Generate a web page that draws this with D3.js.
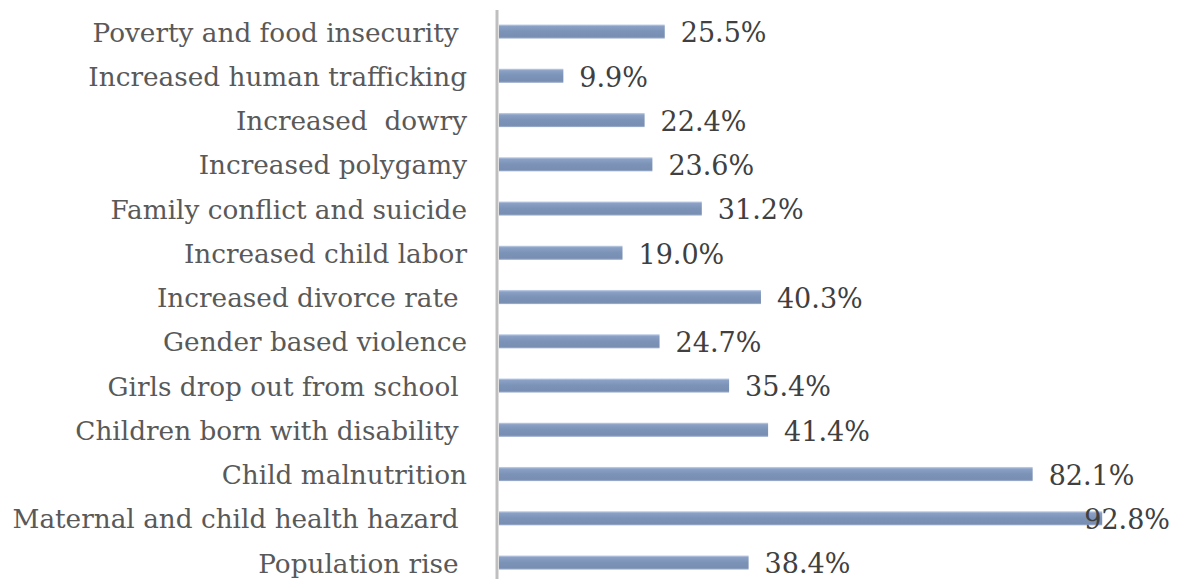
<!DOCTYPE html>
<html>
<head>
<meta charset="utf-8">
<script src="https://cdn.jsdelivr.net/npm/d3@7"></script>
<style>
  html, body { margin: 0; padding: 0; background: #ffffff; }
  svg { display: block; }
  .cat text { white-space: pre; }
</style>
</head>
<body>
<svg id="chart" width="1177" height="579"></svg>
<script>
// Consequences, listed top to bottom as they appear
const categories = [
  "Poverty and food insecurity ",
  "Increased human trafficking",
  "Increased  dowry",
  "Increased polygamy",
  "Family conflict and suicide",
  "Increased child labor",
  "Increased divorce rate ",
  "Gender based violence",
  "Girls drop out from school ",
  "Children born with disability ",
  "Child malnutrition",
  "Maternal and child health hazard ",
  "Population rise "
];
// Share of respondents (%)
const values = [25.5, 9.9, 22.4, 23.6, 31.2, 19.0, 40.3, 24.7, 35.4, 41.4, 82.1, 92.8, 38.4];
const valueLabels = ["25.5%", "9.9%", "22.4%", "23.6%", "31.2%", "19.0%", "40.3%", "24.7%", "35.4%", "41.4%", "82.1%", "92.8%", "38.4%"];

const W = 1177;
const svg = d3.select("#chart");
const axisX = 496.5;
const barStart = 499;

const x = d3.scaleLinear().domain([0, 100]).range([barStart, barStart + 650]);
const y = d3.scaleBand()
  .domain(categories)
  .range([9.4, 9.4 + 13 * 44.25])
  .paddingInner(0.68)
  .paddingOuter(0.34);

// cylinder-like shading of the bars
const defs = svg.append("defs");
const grad = defs.append("linearGradient")
  .attr("id", "barFill").attr("x1", 0).attr("y1", 0).attr("x2", 0).attr("y2", 1);
grad.append("stop").attr("offset", "0%").attr("stop-color", "#c9d6ec");
grad.append("stop").attr("offset", "14%").attr("stop-color", "#8aa0c4");
grad.append("stop").attr("offset", "50%").attr("stop-color", "#7c93b8");
grad.append("stop").attr("offset", "88%").attr("stop-color", "#788eb2");
grad.append("stop").attr("offset", "100%").attr("stop-color", "#a6b6d0");

const data = categories.map((c, i) => ({ cat: c, value: values[i], label: valueLabels[i] }));

svg.append("g").selectAll("rect")
  .data(data)
  .join("rect")
  .attr("x", x(0))
  .attr("y", d => y(d.cat))
  .attr("width", d => x(d.value) - x(0))
  .attr("height", y.bandwidth())
  .attr("fill", "url(#barFill)");

// category axis
const axis = svg.append("g")
  .attr("class", "cat")
  .attr("transform", `translate(${axisX},0)`)
  .call(d3.axisLeft(y).tickSize(0).tickSizeOuter(0).tickPadding(29.5));
axis.select(".domain").attr("stroke", "#bfbfbf").attr("stroke-width", 3);
axis.selectAll("text")
  .attr("fill", "#595959")
  .attr("dy", "0.38em")
  .style("font-family", "'DejaVu Serif', serif")
  .style("font-size", "26.3px");

// value labels; a label that would run past the right edge is pulled back inside
svg.append("g").selectAll("text")
  .data(data)
  .join("text")
  .attr("x", d => x(d.value) + 16)
  .attr("y", d => y(d.cat) + y.bandwidth() / 2)
  .attr("dy", "0.4em")
  .attr("fill", "#404040")
  .style("font-family", "'DejaVu Serif', serif")
  .style("font-size", "27px")
  .text(d => d.label)
  .each(function (d) {
    const w = this.getComputedTextLength();
    const x0 = x(d.value) + 16;
    if (x0 + w > W - 7) d3.select(this).attr("x", W - 7 - w);
  });
</script>
</body>
</html>
